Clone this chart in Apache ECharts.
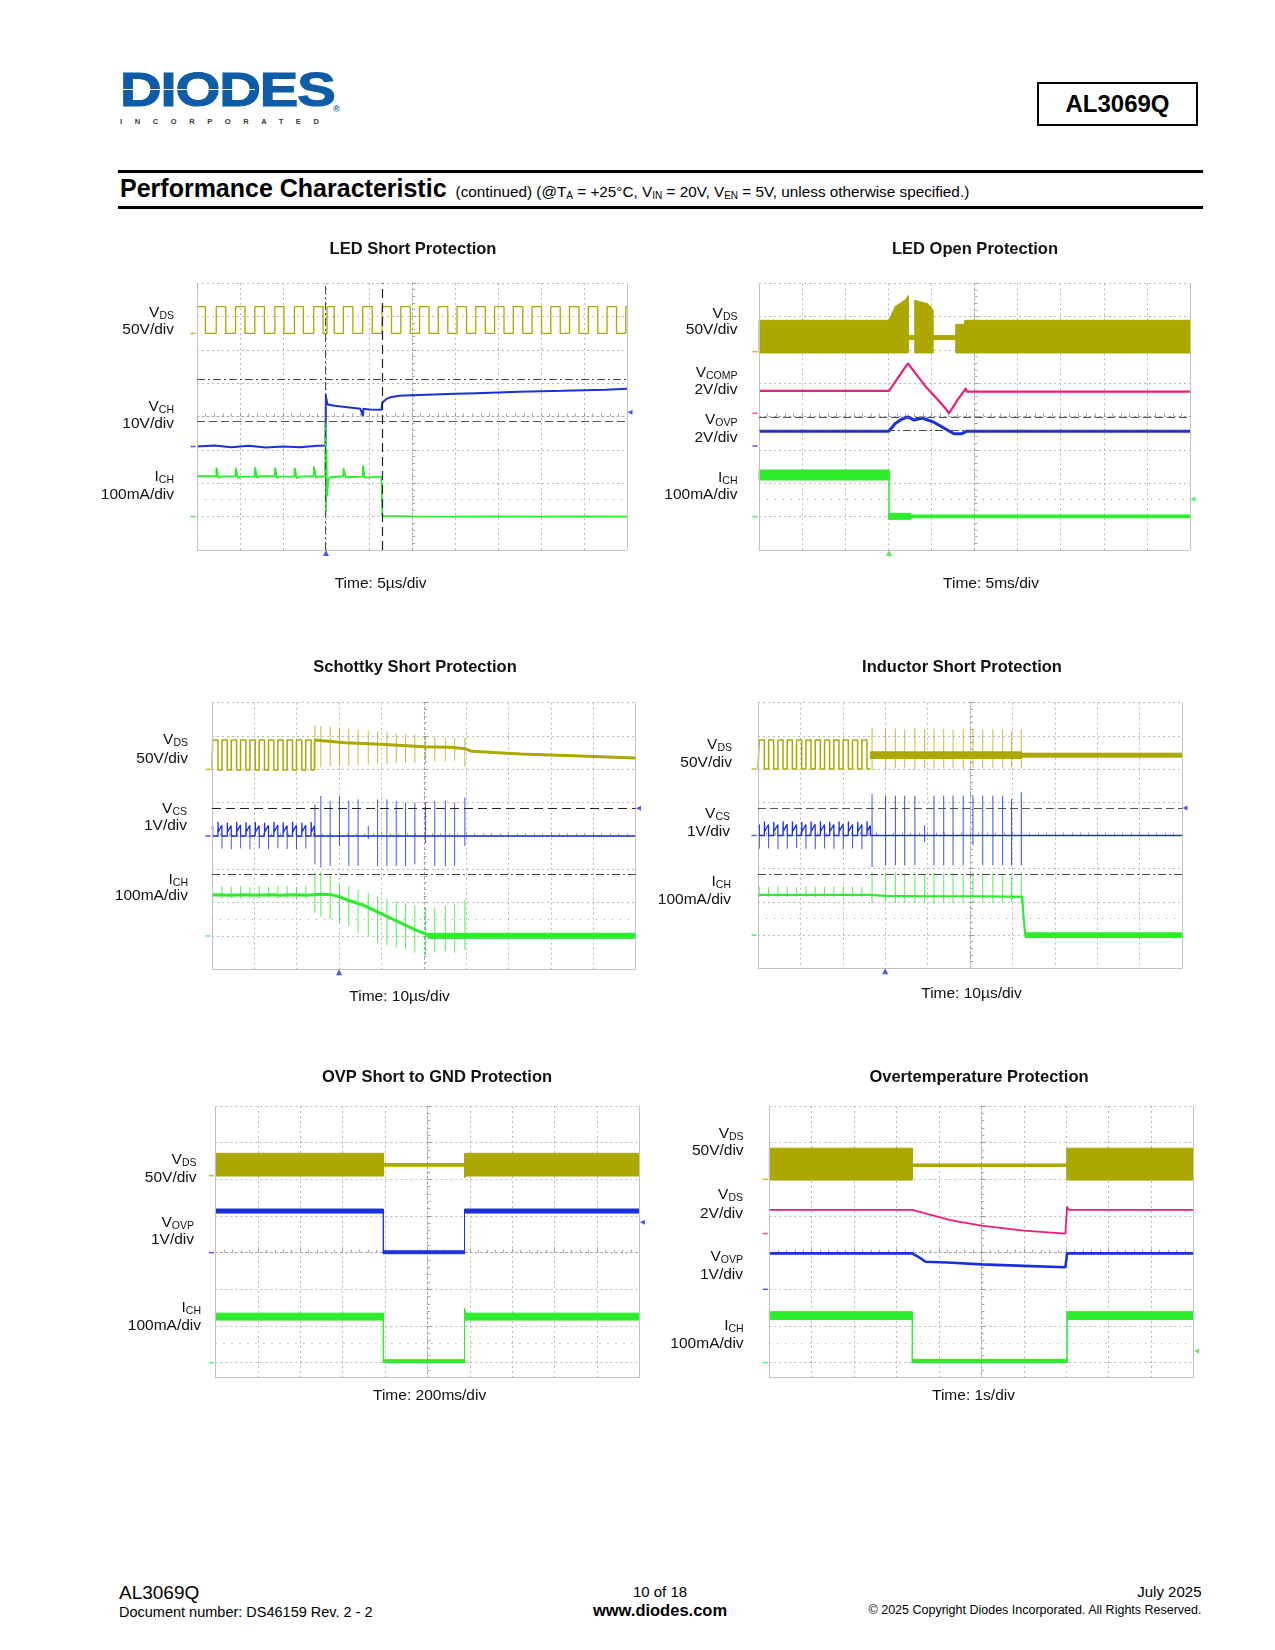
<!DOCTYPE html>
<html><head><meta charset="utf-8">
<script src="https://cdn.jsdelivr.net/npm/echarts@6/dist/echarts.min.js"></script>
<style>
html,body{margin:0;padding:0;background:#fff;}
body{width:1275px;height:1650px;position:relative;font-family:"Liberation Sans",Arial,sans-serif;color:#000;overflow:hidden}
.abs{position:absolute;white-space:nowrap}
#chart{position:absolute;left:0;top:0;width:1275px;height:1650px;z-index:2}
.sub{font-size:10px;position:relative;top:2px}
</style></head><body>
<div class="abs" style="left:120px;top:65.2px;font:bold 49px/49px 'Liberation Sans',Arial,sans-serif;letter-spacing:-1px;color:#0f5ca6;-webkit-text-stroke:1.2px #0f5ca6;transform:scaleX(1.18);transform-origin:0 0;">DIODES</div>
<div class="abs" style="left:121px;top:88.6px;width:134px;height:1.6px;background:#fff;"></div>
<div class="abs" style="left:120px;top:117.2px;font:900 7.5px/9px 'Liberation Sans',Arial,sans-serif;letter-spacing:12.6px;color:#3b3b30;">INCORPORATED</div>
<div class="abs" style="left:333px;top:104px;font:bold 9px/10px 'Liberation Sans',Arial,sans-serif;color:#0f5ca6;">®</div>
<div class="abs" style="left:1037px;top:82px;width:157px;height:40px;border:2px solid #000;text-align:center;font:bold 24px/40px 'Liberation Sans',Arial,sans-serif;">AL3069Q</div>
<div class="abs" style="left:118px;top:169.5px;width:1085px;height:3px;background:#000"></div>
<div class="abs" style="left:118px;top:205.5px;width:1085px;height:3px;background:#000"></div>
<div class="abs" style="left:120px;top:175.5px;font:bold 25px/25px 'Liberation Sans',Arial,sans-serif;">Performance Characteristic<span style="font-weight:normal;font-size:15.3px;margin-left:9px;">(continued) (@T<span class="sub">A</span> = +25°C, V<span class="sub">IN</span> = 20V, V<span class="sub">EN</span> = 5V, unless otherwise specified.)</span></div>

<div class="abs" style="left:119px;top:1583px;font:19px/19px 'Liberation Sans',Arial,sans-serif;">AL3069Q</div>
<div class="abs" style="left:119px;top:1605px;font:14.5px/14.5px 'Liberation Sans',Arial,sans-serif;">Document number: DS46159 Rev. 2 - 2</div>
<div class="abs" style="left:560px;width:200px;text-align:center;top:1584px;font:15px/15px 'Liberation Sans',Arial,sans-serif;">10 of 18</div>
<div class="abs" style="left:560px;width:200px;text-align:center;top:1602px;font:bold 16.5px/16.5px 'Liberation Sans',Arial,sans-serif;">www.diodes.com</div>
<div class="abs" style="right:73.5px;top:1584px;font:15px/15px 'Liberation Sans',Arial,sans-serif;">July 2025</div>
<div class="abs" style="right:73.5px;top:1604px;font:12.5px/12.5px 'Liberation Sans',Arial,sans-serif;">© 2025 Copyright Diodes Incorporated. All Rights Reserved.</div>

<div id="chart"></div>
<script>
// ================= DATA =================
// --- LED Short Protection (time in µs, 5 µs/div) ---
const ledShortVdsEdges = [0.98, 2.24, 3.34, 4.48, 5.58, 6.72, 7.84, 9.05, 10.11, 11.33, 12.37, 13.57, 14.66, 15.12, 15.96, 17.02, 18.13, 19.27, 20.38, 21.52, 22.62, 23.70, 24.80, 25.88, 26.98, 28.06, 29.16, 30.24, 31.34, 32.42, 33.52, 34.60, 35.70, 36.78, 37.88, 38.96, 40.06, 41.14, 42.24, 43.32, 44.42, 45.50, 46.60, 47.68, 48.78, 49.86];
const ledShortVdsLevels = [40, 0]; // [high V, low V]
const ledShortVch = [[0,0],[2,0.3],[4,-0.2],[6,0.2],[8,-0.3],[10,0],[12,-0.2],[14,0.2],[14.95,0.3],[14.98,15.5],[15.05,14.0],[15.2,12.6],[16,12.2],[17,11.9],[18,11.6],[19,11.3],[19.3,9.2],[19.35,11.3],[20,11.1],[21.45,11.0],[21.55,13.2],[22,14.2],[22.5,14.8],[23.5,15.2],[25,15.4],[27.5,15.6],[30,15.8],[32.5,16.0],[35,16.2],[37.5,16.4],[40,16.6],[42.5,16.7],[45,16.9],[47.5,17.0],[50,17.3]];
const ledShortIch = [[0,121],[2.24,121],[2.27,147],[2.5,116],[2.8,120],[4.48,121],[4.51,146],[4.75,115],[5.0,120],[6.72,120],[6.75,148],[7.0,116],[7.25,121],[9.05,121],[9.08,147],[9.3,116],[9.6,120],[11.33,120],[11.36,146],[11.6,115],[11.9,120],[13.57,121],[13.6,150],[13.85,116],[14.1,120],[14.9,121],[14.95,280],[15.0,15],[15.05,200],[15.12,60],[15.25,110],[15.5,118],[17.0,121],[17.03,145],[17.3,118],[19.27,120],[19.3,152],[19.5,117],[21.45,120],[21.5,118],[21.55,2],[25,1],[30,0],[35,1],[40,0],[45,1],[50,0]];

// --- LED Open Protection (time in ms, 5 ms/div) --- band rows: [t, top, bottom]
const ledOpenVdsBand = [[0,47,-2],[15.08,47,-2],[15.41,57,-2],[15.82,68,-2],[16.44,73,-2],[17.07,79,-2],[17.3,84,-2],[17.3,24,18],[18.1,24,18],[18.1,77,-2],[18.93,74,-2],[19.55,72,-2],[19.96,67,-2],[20.17,62,-2],[20.17,24,18],[22.86,24,18],[22.86,41,-2],[23.9,41,-2],[23.9,47,-2],[50,47,-2]];
const ledOpenVcomp = [[0,1.35],[15.08,1.35],[17.27,3.0],[19.34,1.6],[20.59,0.9],[21.62,0.3],[22.04,0.0],[23.0,0.78],[24.0,1.5],[24.1,1.3],[50,1.3]];
const ledOpenVovp = [[0,0.89],[15.08,0.89],[15.8,1.35],[16.6,1.62],[17.27,1.75],[18.0,1.55],[18.93,1.68],[20.17,1.45],[21.2,1.15],[22.04,0.9],[22.66,0.73],[23.5,0.73],[24.1,0.89],[50,0.89]];
const ledOpenIchBand = [[0,140,110],[15.08,140,110],[15.08,10,-8],[17.6,10,-8],[17.6,5,-3],[50,5,-3]];

// --- Schottky Short Protection (time in µs, 10 µs/div) ---
const schottkyVdsEdges = [0.15, 1.40, 2.35, 3.60, 4.55, 5.80, 6.75, 8.00, 8.95, 10.20, 11.15, 12.40, 13.35, 14.60, 15.55, 16.80, 17.75, 19.00, 19.95, 21.20, 22.15, 23.40, 24.20];
const schottkyVdsLevels = [44, -1];
const schottkyVdsTail = [[24.2,44],[31.5,40],[39.8,37.5],[50.1,34],[56.3,33],[59.7,31],[61.3,27],[72.9,23],[85.3,20.5],[100,17]];
const schottkyVdsSpikes = [[24.3,66,2],[25.7,65,3],[27.9,64,4],[30.1,62,5],[32.3,61,6],[34.5,60,6],[36.9,58,7],[39.1,57,8],[41.3,56,8],[43.5,54,9],[45.7,53,10],[47.9,52,10],[50.4,50,11],[52.6,49,12],[55.1,48,12],[57.3,47,13],[59.7,47,4]];
const schottkyVcs = [[0,0.22],[0.15,0.3],[0.16,0],[1.40,0],[1.42,0.42],[1.47,0.12],[2.33,0.32],[2.35,0],[3.60,0],[3.62,0.40],[3.67,0.12],[4.53,0.31],[4.55,0],[5.80,0],[5.82,0.43],[5.87,0.13],[6.73,0.33],[6.75,0],[8.00,0],[8.02,0.41],[8.07,0.12],[8.93,0.32],[8.95,0],[10.20,0],[10.22,0.42],[10.27,0.12],[11.13,0.31],[11.15,0],[12.40,0],[12.42,0.40],[12.47,0.13],[13.33,0.32],[13.35,0],[14.60,0],[14.62,0.42],[14.67,0.12],[15.53,0.33],[15.55,0],[16.80,0],[16.82,0.41],[16.87,0.12],[17.73,0.31],[17.75,0],[19.00,0],[19.02,0.43],[19.07,0.13],[19.93,0.32],[19.95,0],[21.20,0],[21.22,0.40],[21.27,0.12],[22.13,0.32],[22.15,0],[23.40,0],[23.42,0.42],[23.47,0.12],[24.18,0.3],[24.20,0],[100,0]];
const schottkyVcsSpikes = [[2.36,0,-0.38],[4.56,0,-0.4],[6.76,0,-0.37],[8.96,0,-0.4],[11.16,0,-0.38],[13.36,0,-0.4],[15.56,0,-0.37],[17.76,0,-0.39],[19.96,0,-0.4],[22.16,0,-0.38],[24.3,0.95,-0.85],[25.7,1.2,-0.95],[27.9,1.05,-0.9],[30.1,1.2,-0.3],[32.3,1.05,-0.9],[34.5,1.1,-0.9],[36.9,0.3,-0.1],[39.1,1.1,-0.9],[41.3,1.1,-0.9],[43.5,1.05,-0.9],[45.7,1.0,-0.9],[47.9,1.0,-0.85],[50.4,1.0,-0.2],[52.6,1.05,-0.9],[55.1,1.05,-0.9],[57.3,1.0,-0.9],[59.7,1.15,-0.3]];
const schottkyIch = [[0,123],[2,124],[4,122],[6,123],[8,124],[10,122],[12,123],[14,124],[16,122],[18,123],[20,124],[22,122],[24.2,124],[26,125],[28.2,124],[30.0,118],[32,108],[35.6,93],[39.8,68],[43.9,43],[48,18],[51,3],[53,0]];
const schottkyIchBand = [[51,8,-7],[100,8,-7]];
const schottkyIchSpikes = [[0.15,148,112],[2.35,150,112],[4.55,148,114],[6.75,150,112],[8.95,147,113],[11.15,150,112],[13.35,148,114],[15.55,149,112],[17.75,150,113],[19.95,147,112],[22.15,150,113],[24.3,190,70],[25.7,193,58],[27.9,180,50],[30.1,160,38],[32.3,150,30],[34.5,140,10],[36.9,130,0],[39.1,120,-20],[41.3,112,-27],[43.5,105,-35],[45.7,98,-40],[47.9,92,-50],[50.4,88,-57],[52.6,85,-50],[55.1,90,-45],[57.3,95,-50],[59.7,108,-42]];

// --- Inductor Short Protection (time in µs, 10 µs/div) ---
const inductorVdsEdges = [0.3, 1.5, 2.5, 3.7, 4.7, 5.9, 6.9, 8.1, 9.1, 10.3, 11.3, 12.5, 13.5, 14.7, 15.7, 16.9, 17.9, 19.1, 20.1, 21.3, 22.3, 23.5, 24.5, 25.7];
const inductorVdsLevels = [44, 0];
const inductorVdsBand = [[26.5,26,16],[62.1,26,16],[62.3,24,18],[100,24,18]];
const inductorVdsSpikes = [[26.9,62,-1],[30.1,62,0],[32.4,61,1],[34.6,60,2],[37.0,62,0],[39.3,59,2],[41.5,61,1],[43.8,60,2],[46.0,59,2],[48.4,60,1],[50.7,61,2],[53.0,59,1],[55.4,60,2],[57.7,59,2],[59.8,58,3],[62.1,60,1]];
const inductorVcs = [[0,0.25],[0.3,0.33],[0.31,0],[1.5,0],[1.52,0.42],[1.57,0.12],[2.48,0.33],[2.5,0],[3.7,0],[3.72,0.41],[3.77,0.12],[4.68,0.33],[4.7,0],[5.9,0],[5.92,0.43],[5.97,0.13],[6.88,0.34],[6.9,0],[8.1,0],[8.12,0.42],[8.17,0.12],[9.08,0.33],[9.1,0],[10.3,0],[10.32,0.41],[10.37,0.12],[11.28,0.33],[11.3,0],[12.5,0],[12.52,0.42],[12.57,0.13],[13.48,0.34],[13.5,0],[14.7,0],[14.72,0.43],[14.77,0.12],[15.68,0.33],[15.7,0],[16.9,0],[16.92,0.41],[16.97,0.12],[17.88,0.33],[17.9,0],[19.1,0],[19.12,0.42],[19.17,0.13],[20.08,0.34],[20.1,0],[21.3,0],[21.32,0.42],[21.37,0.12],[22.28,0.33],[22.3,0],[23.5,0],[23.52,0.41],[23.57,0.12],[24.48,0.33],[24.5,0],[25.7,0],[25.72,0.43],[25.77,0.13],[26.48,0.3],[26.5,0],[100,0]];
const inductorVcsSpikes = [[0.31,0,-0.4],[2.51,0,-0.39],[4.71,0,-0.41],[6.91,0,-0.4],[9.11,0,-0.38],[11.31,0,-0.4],[13.51,0,-0.41],[15.71,0,-0.39],[17.91,0,-0.4],[20.11,0,-0.4],[22.31,0,-0.39],[24.51,0,-0.41],[26.9,1.25,-0.95],[30.1,1.2,-0.9],[32.4,1.2,-0.9],[34.6,1.2,-0.9],[37.0,1.2,-0.9],[39.3,0.3,-0.2],[41.5,1.2,-0.9],[43.8,1.2,-0.9],[46.0,1.2,-0.9],[48.4,1.2,-0.9],[50.7,1.2,-0.3],[53.0,1.2,-0.9],[55.4,1.2,-0.9],[57.7,1.2,-0.9],[59.8,1.1,-0.9],[62.1,1.3,-0.9]];
const inductorIch = [[0,121],[26.5,121],[30,118],[40,117],[50,117],[60,116],[62.3,115],[62.6,60],[63.0,2]];
const inductorIchBand = [[63.0,7,-7],[100,7,-7]];
const inductorIchSpikes = [[0.3,146,114],[2.5,145,115],[4.7,147,114],[6.9,146,115],[9.1,145,114],[11.3,147,115],[13.5,146,114],[15.7,145,115],[17.9,146,114],[20.1,147,115],[22.3,146,114],[24.5,145,115],[26.9,190,95],[30.1,185,100],[32.4,188,98],[34.6,186,97],[37.0,190,96],[39.3,185,100],[41.5,188,95],[43.8,186,98],[46.0,188,96],[48.4,185,98],[50.7,187,96],[53.0,185,99],[55.4,188,97],[57.7,186,98],[59.8,185,99],[62.1,190,96]];

// --- OVP Short to GND Protection (time in ms, 200 ms/div) ---
const ovpVdsBand = [[0,30.5,-0.5],[792,30.5,-0.5],[792,16.5,13],[1175,16.5,13],[1175,30.5,-3],[1182,30.5,-0.5],[2000,30.5,-0.5]];
const ovpVovpBand = [[0,1.19,1.08],[792,1.19,1.08],[792,0.05,-0.03],[1175,0.05,-0.03],[1175,1.19,1.08],[2000,1.19,1.08]];
const ovpIchBand = [[0,135,116],[792,135,116],[792,8,0],[1175,8,0],[1175,148,116],[1182,135,116],[2000,135,116]];

// --- Overtemperature Protection (time in s, 1 s/div) ---
const otpVdsBand = [[0,42.5,-1],[3.37,42.5,-1],[3.37,21,17.5],[7.02,21,17.5],[7.02,42.5,-1],[10,42.5,-1]];
const otpVds2 = [[0,1.29],[3.37,1.29],[3.68,1.1],[4.27,0.74],[5.0,0.43],[6.0,0.16],[6.98,0.0],[7.02,1.47],[7.06,1.29],[10,1.29]];
const otpVovp = [[0,0.98],[3.37,0.98],[3.55,0.86],[3.68,0.75],[4.2,0.73],[5.0,0.68],[6.0,0.64],[6.98,0.6],[7.02,0.98],[10,0.98]];
const otpIchBand = [[0,139,118],[3.37,139,118],[3.37,9,0],[7.02,9,0],[7.02,139,118],[10,139,118]];

// ================= BUILD =================
const COL = {olive:'#aca800', blue:'#1a30dc', green:'#2ced2c', magenta:'#ec1e7c'};
function stepTrace(edges, levels, startHigh, tEnd) {
  let high = startHigh;
  const lv = () => high ? levels[0] : levels[1];
  const pts = [[0, lv()]];
  edges.forEach(t => { pts.push([t, lv()]); high = !high; pts.push([t, lv()]); });
  if (tEnd != null) pts.push([tEnd, lv()]);
  return pts;
}
const FONT = '"Liberation Sans", Arial, sans-serif';
const LS = {dashdot:{type:[8,3,2,3], color:'#4a4a4a', width:1}, dashed:{type:[8,4], color:'#555', width:1}, dashedDark:{type:[9,5], color:'#222', width:1.2}, dotted:{type:[1,7], color:'#999', width:1}, frame:{type:'solid', color:'#c2c2c2', width:1}};

const panels = [
 {title:'LED Short Protection', titlePos:[413,249.3], timeText:'Time: 5µs/div', timePos:[380.6,584], rect:[197,283,430,267], tMax:50, visBottom:0,
  channels:[{ground:6.49, perDiv:50, color:COL.olive},{ground:3.1, perDiv:10, color:COL.blue},{ground:1.0, perDiv:100, color:COL.green}],
  labels:[{m:'V',s:'DS',sc:'50V/div',y:313,y2:330,r:174},{m:'V',s:'CH',sc:'10V/div',y:406.7,y2:424,r:174},{m:'I',s:'CH',sc:'100mA/div',y:477,y2:495,r:174}],
  traces:[{k:'line',ch:0,data:stepTrace(ledShortVdsEdges, ledShortVdsLevels, true, 50),w:1.3},{k:'line',ch:1,data:ledShortVch,w:2},{k:'line',ch:2,data:ledShortIch,w:1.8}],
  hLines:[[5.11,'dashdot'],[3.86,'dashed'],[1.52,'dotted']], vLines:[[14.96,'dashdot'],[21.5,'dashedDark']],
  trigger:[15.0,COL.blue], rightMark:[4.13,COL.blue]},
 {title:'LED Open Protection', titlePos:[975,249.3], timeText:'Time: 5ms/div', timePos:[991,584], rect:[759,283.3,431,266.7], tMax:50, visBottom:0,
  channels:[{ground:5.95, perDiv:50, color:COL.olive},{ground:4.1, perDiv:2, color:COL.magenta},{ground:3.12, perDiv:2, color:COL.blue},{ground:1.0, perDiv:100, color:COL.green}],
  labels:[{m:'V',s:'DS',sc:'50V/div',y:313.3,y2:330,r:737.5},{m:'V',s:'COMP',sc:'2V/div',y:372.7,y2:389.3,r:737.5},{m:'V',s:'OVP',sc:'2V/div',y:420,y2:437.3,r:737.5},{m:'I',s:'CH',sc:'100mA/div',y:477.3,y2:494.3,r:737.5}],
  traces:[{k:'band',ch:0,data:ledOpenVdsBand},{k:'line',ch:1,data:ledOpenVcomp,w:2.2},{k:'line',ch:2,data:ledOpenVovp,w:3},{k:'band',ch:3,data:ledOpenIchBand}],
  hLines:[[3.98,'dashed'],[3.6,'dashdot'],[1.52,'dotted']], vLines:[],
  trigger:[15.08,COL.green], rightMark:[1.52,COL.green]},
 {title:'Schottky Short Protection', titlePos:[415,667.3], timeText:'Time: 10µs/div', timePos:[399.6,996.7], rect:[212,702.7,423.5,266.6], tMax:100, visBottom:0,
  channels:[{ground:6.0, perDiv:50, color:COL.olive},{ground:4.0, perDiv:1, color:COL.blue},{ground:1.0, perDiv:100, color:COL.green}],
  labels:[{m:'V',s:'DS',sc:'50V/div',y:740,y2:758.3,r:188},{m:'V',s:'CS',sc:'1V/div',y:809,y2:826,r:187},{m:'I',s:'CH',sc:'100mA/div',y:879.3,y2:895.7,r:188}],
  traces:[{k:'spikes',ch:0,data:schottkyVdsSpikes,w:1,op:0.75},{k:'line',ch:0,data:stepTrace(schottkyVdsEdges, schottkyVdsLevels, false, null),w:1.5},{k:'line',ch:0,data:schottkyVdsTail,w:3},
          {k:'spikes',ch:1,data:schottkyVcsSpikes,w:1,op:0.8},{k:'line',ch:1,data:schottkyVcs,w:1.3},
          {k:'spikes',ch:2,data:schottkyIchSpikes,w:1,op:0.8},{k:'line',ch:2,data:schottkyIch,w:3},{k:'band',ch:2,data:schottkyIchBand}],
  hLines:[[4.83,'dashedDark'],[2.85,'dashdot'],[1.5,'dotted']], vLines:[],
  trigger:[30,COL.blue], rightMark:[4.83,COL.blue]},
 {title:'Inductor Short Protection', titlePos:[962,667], timeText:'Time: 10µs/div', timePos:[971.5,994], rect:[758,702.7,424,265.6], tMax:100, visBottom:0,
  channels:[{ground:6.0, perDiv:50, color:COL.olive},{ground:4.0, perDiv:1, color:COL.blue},{ground:1.0, perDiv:100, color:COL.green}],
  labels:[{m:'V',s:'DS',sc:'50V/div',y:745,y2:762.3,r:732},{m:'V',s:'CS',sc:'1V/div',y:813.3,y2:831.7,r:730},{m:'I',s:'CH',sc:'100mA/div',y:881.7,y2:899.3,r:731}],
  traces:[{k:'spikes',ch:0,data:inductorVdsSpikes,w:1,op:0.75},{k:'line',ch:0,data:stepTrace(inductorVdsEdges, inductorVdsLevels, false, 26.5),w:1.5},{k:'band',ch:0,data:inductorVdsBand},
          {k:'spikes',ch:1,data:inductorVcsSpikes,w:1,op:0.85},{k:'line',ch:1,data:inductorVcs,w:1.3},
          {k:'spikes',ch:2,data:inductorIchSpikes,w:1,op:0.8},{k:'line',ch:2,data:inductorIch,w:2.2},{k:'band',ch:2,data:inductorIchBand}],
  hLines:[[4.82,'dashed'],[2.83,'dashdot'],[1.5,'dotted']], vLines:[],
  trigger:[30,COL.blue], rightMark:[4.83,COL.blue]},
 {title:'OVP Short to GND Protection', titlePos:[437,1077.7], timeText:'Time: 200ms/div', timePos:[429.6,1396], rect:[215.4,1106,424,293.3], tMax:2000, visBottom:0.6,
  channels:[{ground:6.1, perDiv:50, color:COL.olive},{ground:4.0, perDiv:1, color:COL.blue},{ground:1.0, perDiv:100, color:COL.green}],
  labels:[{m:'V',s:'DS',sc:'50V/div',y:1160,y2:1177.7,r:196.5},{m:'V',s:'OVP',sc:'1V/div',y:1222.3,y2:1240,r:194},{m:'I',s:'CH',sc:'100mA/div',y:1307.3,y2:1325.7,r:201}],
  traces:[{k:'band',ch:0,data:ovpVdsBand},{k:'band',ch:1,data:ovpVovpBand},{k:'band',ch:2,data:ovpIchBand}],
  hLines:[[1.53,'dotted']], vLines:[],
  trigger:null, rightMark:[4.83,COL.blue]},
 {title:'Overtemperature Protection', titlePos:[979,1077.5], timeText:'Time: 1s/div', timePos:[973.5,1396], rect:[769.3,1106,424.2,293.3], tMax:10, visBottom:0.6,
  channels:[{ground:6.0, perDiv:50, color:COL.olive},{ground:4.52, perDiv:2, color:COL.magenta},{ground:3.0, perDiv:1, color:COL.blue},{ground:1.0, perDiv:100, color:COL.green}],
  labels:[{m:'V',s:'DS',sc:'50V/div',y:1133.3,y2:1150.7,r:743.6},{m:'V',s:'DS',sc:'2V/div',y:1195,y2:1213.3,r:743},{m:'V',s:'OVP',sc:'1V/div',y:1256.7,y2:1275,r:743},{m:'I',s:'CH',sc:'100mA/div',y:1326,y2:1343.3,r:743.6}],
  traces:[{k:'band',ch:0,data:otpVdsBand},{k:'line',ch:1,data:otpVds2,w:1.8},{k:'line',ch:2,data:otpVovp,w:2.6},{k:'band',ch:3,data:otpIchBand}],
  hLines:[[1.53,'dotted']], vLines:[],
  trigger:null, rightMark:[1.32,COL.green]}
];

const mctx = document.createElement('canvas').getContext('2d');
function textW(str, font){ mctx.font = font; return mctx.measureText(str).width; }

function screenAxis(gridIndex, onZeroIdx, half) {
  return {gridIndex, type:'value', min:-half, max:half, interval:1,
    axisLabel:{show:false},
    axisLine:{show:true, onZero:true, onZeroAxisIndex:onZeroIdx, lineStyle:{color:'#a4a4a4', width:1, type:[2,3]}},
    axisTick:{show:true, inside:true, length:4, lineStyle:{color:'#9c9c9c'}},
    minorTick:{show:true, splitNumber:5, length:3, lineStyle:{color:'#a8a8a8'}},
    splitLine:{show:true, lineStyle:{color:'#b9b9b9', type:[2,3], width:1}},
    splitArea:{show:false}};
}

const option = {animation:false, backgroundColor:'transparent', grid:[], xAxis:[], yAxis:[], series:[], graphic:{elements:[]}};
const G = option.graphic.elements;

panels.forEach((p, i) => {
  const [gl, gt, gw, gh] = p.rect;
  option.grid.push({left:gl, top:gt, width:gw, height:gh, show:false});
  const sx = option.xAxis.length, tx = sx + 1;
  const sy = option.yAxis.length;
  option.xAxis.push(screenAxis(i, sy, 5));
  option.xAxis.push({gridIndex:i, type:'value', min:0, max:p.tMax, show:false});
  option.yAxis.push(screenAxis(i, sx, 4));
  const chIdx = [];
  p.channels.forEach(ch => { chIdx.push(option.yAxis.length); option.yAxis.push({gridIndex:i, type:'value', min:-ch.ground*ch.perDiv, max:(8-ch.ground)*ch.perDiv, show:false}); });

  const ml = [{xAxis:0, lineStyle:LS.frame},{xAxis:p.tMax, lineStyle:LS.frame},{yAxis:p.visBottom-4, lineStyle:LS.frame}];
  p.hLines.forEach(h => ml.push({yAxis:h[0]-4, lineStyle:LS[h[1]]}));
  p.vLines.forEach(v => ml.push({xAxis:v[0], lineStyle:LS[v[1]]}));
  option.series.push({type:'line', xAxisIndex:tx, yAxisIndex:sy, data:[[0,0]], symbol:'none', lineStyle:{opacity:0}, silent:true, z:1,
    markLine:{symbol:['none','none'], silent:true, animation:false, label:{show:false}, data:ml}});

  p.traces.forEach(tr => {
    const ch = p.channels[tr.ch], yIdx = chIdx[tr.ch], color = ch.color;
    if (tr.k === 'line') {
      option.series.push({type:'line', xAxisIndex:tx, yAxisIndex:yIdx, data:tr.data, symbol:'none', showSymbol:false, silent:true, z:4,
        lineStyle:{color, width:tr.w}, itemStyle:{color}});
    } else if (tr.k === 'band') {
      const d = tr.data;
      option.series.push({type:'custom', xAxisIndex:tx, yAxisIndex:yIdx, data:d, silent:true, z:3, encode:{x:0, y:[1,2]},
        renderItem:(params, api) => {
          const j = params.dataIndex;
          if (j >= d.length - 1) return null;
          const a = d[j], b = d[j+1];
          const pts = [api.coord([a[0],a[1]]), api.coord([b[0],b[1]]), api.coord([b[0],b[2]]), api.coord([a[0],a[2]])];
          return {type:'polygon', shape:{points:pts}, style:{fill:color, stroke:color, lineWidth:1}};
        }});
    } else if (tr.k === 'spikes') {
      const op = tr.op || 1, w = tr.w;
      option.series.push({type:'custom', xAxisIndex:tx, yAxisIndex:yIdx, data:tr.data, silent:true, z:3, encode:{x:0, y:[1,2]},
        renderItem:(params, api) => {
          const p1 = api.coord([api.value(0), api.value(1)]), p2 = api.coord([api.value(0), api.value(2)]);
          return {type:'line', shape:{x1:p1[0], y1:p1[1], x2:p2[0], y2:p2[1]}, style:{stroke:color, lineWidth:w, opacity:op}};
        }});
    }
  });

  p.channels.forEach(ch => {
    option.series.push({type:'scatter', xAxisIndex:tx, yAxisIndex:sy, data:[[0, ch.ground-4]], symbol:'rect', symbolSize:[5,1.5], symbolOffset:[-4,0], itemStyle:{color:ch.color}, silent:true, clip:false, z:5});
  });
  if (p.trigger) option.series.push({type:'scatter', xAxisIndex:tx, yAxisIndex:sy, data:[[p.trigger[0], -4]], symbol:'triangle', symbolSize:[6,6], symbolOffset:[0,3], itemStyle:{color:p.trigger[1]}, silent:true, clip:false, z:5});
  if (p.rightMark) option.series.push({type:'scatter', xAxisIndex:tx, yAxisIndex:sy, data:[[p.tMax, p.rightMark[0]-4]], symbol:'triangle', symbolRotate:90, symbolSize:[5,5], symbolOffset:[3,0], itemStyle:{color:p.rightMark[1]}, silent:true, clip:false, z:5});

  if (p.visBottom > 0) {
    const yb = gt + gh * (1 - p.visBottom/8) + 0.8;
    G.push({type:'rect', z:50, shape:{x:gl-12, y:yb, width:gw+24, height:gt+gh-yb+2}, style:{fill:'#ffffff'}, silent:true});
  }

  G.push({type:'text', z:100, x:p.titlePos[0], y:p.titlePos[1], style:{text:p.title, font:'bold 16.5px '+FONT, fill:'#111', align:'center', verticalAlign:'middle', textAlign:'center', textVerticalAlign:'middle'}});
  G.push({type:'text', z:100, x:p.timePos[0], y:p.timePos[1], style:{text:p.timeText, font:'15.5px '+FONT, fill:'#111', align:'center', verticalAlign:'middle', textAlign:'center', textVerticalAlign:'middle'}});
  const mainF = '15.5px '+FONT, subF = '10.5px '+FONT;
  p.labels.forEach(l => {
    const sw = textW(l.s, subF);
    G.push({type:'text', z:100, x:l.r, y:l.y+3.5, style:{text:l.s, font:subF, fill:'#111', align:'right', verticalAlign:'middle', textAlign:'right', textVerticalAlign:'middle'}});
    G.push({type:'text', z:100, x:l.r-sw, y:l.y, style:{text:l.m, font:mainF, fill:'#111', align:'right', verticalAlign:'middle', textAlign:'right', textVerticalAlign:'middle'}});
    G.push({type:'text', z:100, x:l.r, y:l.y2, style:{text:l.sc, font:mainF, fill:'#111', align:'right', verticalAlign:'middle', textAlign:'right', textVerticalAlign:'middle'}});
  });
});

const chart = echarts.init(document.getElementById('chart'), null, {renderer:'canvas', width:1275, height:1650});
chart.setOption(option);
</script>
</body></html>
